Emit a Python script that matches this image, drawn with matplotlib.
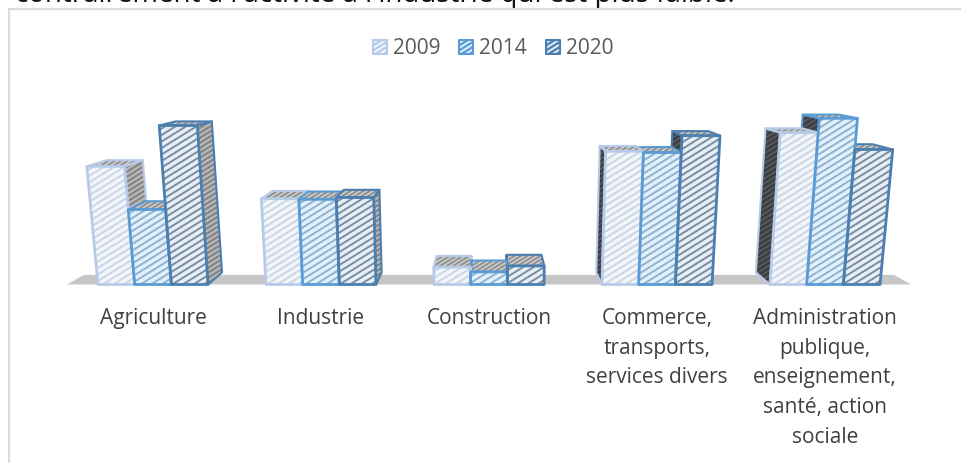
import numpy as np
import matplotlib
matplotlib.use("Agg")
import matplotlib.pyplot as plt
from matplotlib.collections import LineCollection
from matplotlib.patches import Polygon

categories = ["Agriculture", "Industrie", "Construction",
              "Commerce,\ntransports,\nservices divers",
              "Administration\npublique,\nenseignement,\nsanté, action\nsociale"]
years = ["2009", "2014", "2020"]
v2009 = [19.7, 14.3, 2.9, 22.2, 25.3]
v2014 = [12.5, 14.2, 2.1, 22.0, 27.7]
v2020 = [26.5, 14.5, 3.1, 24.8, 22.5]
series = [v2009, v2014, v2020]

edge_cols = ["#b7cbe8", "#5b9bd5", "#4a7fb0"]
face_cols = ["#f1f6fc", "#e3f0fa", "#e6eef6"]
stripe_cols = ["#ccd5e1", "#8db3d2", "#7c8ca2"]

# 3d look: floor line, px per unit, vanishing point
cx, base_y = 489, 285.5
step, bar_w = 168, 36.7
unit = 6.0
vx, vy = 488, 45
depth = 0.05
splay = 0.00024

plt.rcParams["font.family"] = ["Open Sans", "DejaVu Sans"]

fig = plt.figure(figsize=(9.62, 4.64), dpi=100)
ax = fig.add_axes([0, 0, 1, 1])
ax.set_xlim(0, 962)
ax.set_ylim(464, 0)
ax.axis("off")


def project(x, h, d=0.0):
    # x is the position on the floor, h the height in px, d the depth
    px = cx + (x - cx) * (1 + splay * h)
    py = base_y - h
    return px + d * (vx - px), py + d * (vy - py)


def face(points, fill, stripe, z, gap=6.5, lw=1.4):
    poly = Polygon(points, closed=True, facecolor=fill, edgecolor="none", zorder=z)
    ax.add_patch(poly)
    # slanted stripes, cut to the shape of the face
    xs = [p[0] for p in points]
    ys = [p[1] for p in points]
    slope = -0.62
    w = max(xs) - min(xs)
    starts = np.arange(min(ys) - 2, max(ys) + w * 0.62 + gap, gap)
    segs = [[(min(xs), y0), (max(xs), y0 + slope * w)] for y0 in starts]
    lines = LineCollection(segs, colors=stripe, linewidths=lw, zorder=z + 0.01)
    ax.add_collection(lines)
    lines.set_clip_path(poly)


def outline(points, col, z, lw=2.0):
    ax.add_patch(Polygon(points, closed=True, fill=False, edgecolor=col, lw=lw,
                         joinstyle="round", zorder=z))


# frame of the chart and the text line cut off above it
ax.plot([962, 9, 9], [10, 10, 464], color="#dcdcdc", lw=1.6, zorder=1)
ax.text(15, 2, "contrairement à l'activité à l'industrie qui est plus faible.",
        fontsize=20, color="#111111", va="baseline", ha="left", zorder=0)

# floor
x_left = cx - 2.5 * step - 2
x_right = cx + 2.5 * step + 2
ax.add_patch(Polygon([project(x_left, 0), project(x_right, 0),
                      project(x_right, 0, 0.04), project(x_left, 0, 0.04)],
                     closed=True, facecolor="#c6c6c6", edgecolor="none", zorder=2))

z = 3
for c in range(len(categories)):
    group_x = cx + (c - 2) * step
    # farthest bar first, so the nearer one hides its side
    order = sorted(range(3), key=lambda s: -abs(group_x + (s - 1) * bar_w - cx))
    fronts = []
    for s in order:
        h = series[s][c] * unit
        x0 = group_x + (s - 1.5) * bar_w
        x1 = x0 + bar_w
        fbl, fbr = project(x0, 0), project(x1, 0)
        ftl, ftr = project(x0, h), project(x1, h)
        bbl, bbr = project(x0, 0, depth), project(x1, 0, depth)
        btl, btr = project(x0, h, depth), project(x1, h, depth)
        if (x0 + x1) / 2 < cx:
            side = [fbr, ftr, btr, bbr]
            side_fill, side_stripe = "#bcbcbc", "#858585"
        else:
            side = [fbl, ftl, btl, bbl]
            side_fill, side_stripe = "#55585c", "#3a3c3f"
        top = [ftl, ftr, btr, btl]
        face(side, side_fill, side_stripe, z, 5, 1.6)
        outline(side, edge_cols[s], z + 0.1, 1.5)
        face(top, "#cfcfcf", "#8f8f8f", z, 4, 1.3)
        outline(top, edge_cols[s], z + 0.1, 1.5)
        front = [fbl, fbr, ftr, ftl]
        face(front, face_cols[s], stripe_cols[s], z + 0.2)
        fronts.append((s, front))
        z += 1
    for s, front in sorted(fronts):
        outline(front, edge_cols[s], 50 + s, 2.0)
    ax.text(group_x, 308, categories[c], ha="center", va="top", fontsize=15,
            color="#404040", linespacing=1.54, zorder=60)

# legend
leg_x = [373, 459, 546]
for i, year in enumerate(years):
    sq = [(leg_x[i], 41), (leg_x[i] + 14, 41), (leg_x[i] + 14, 55), (leg_x[i], 55)]
    face(sq, edge_cols[i], face_cols[i], 60, 5, 1.4)
    outline(sq, edge_cols[i], 61, 1.5)
    ax.text(leg_x[i] + 20, 48, year, ha="left", va="center", fontsize=15,
            color="#595959", zorder=61)

fig.savefig("out.png", dpi=100, facecolor="white")
